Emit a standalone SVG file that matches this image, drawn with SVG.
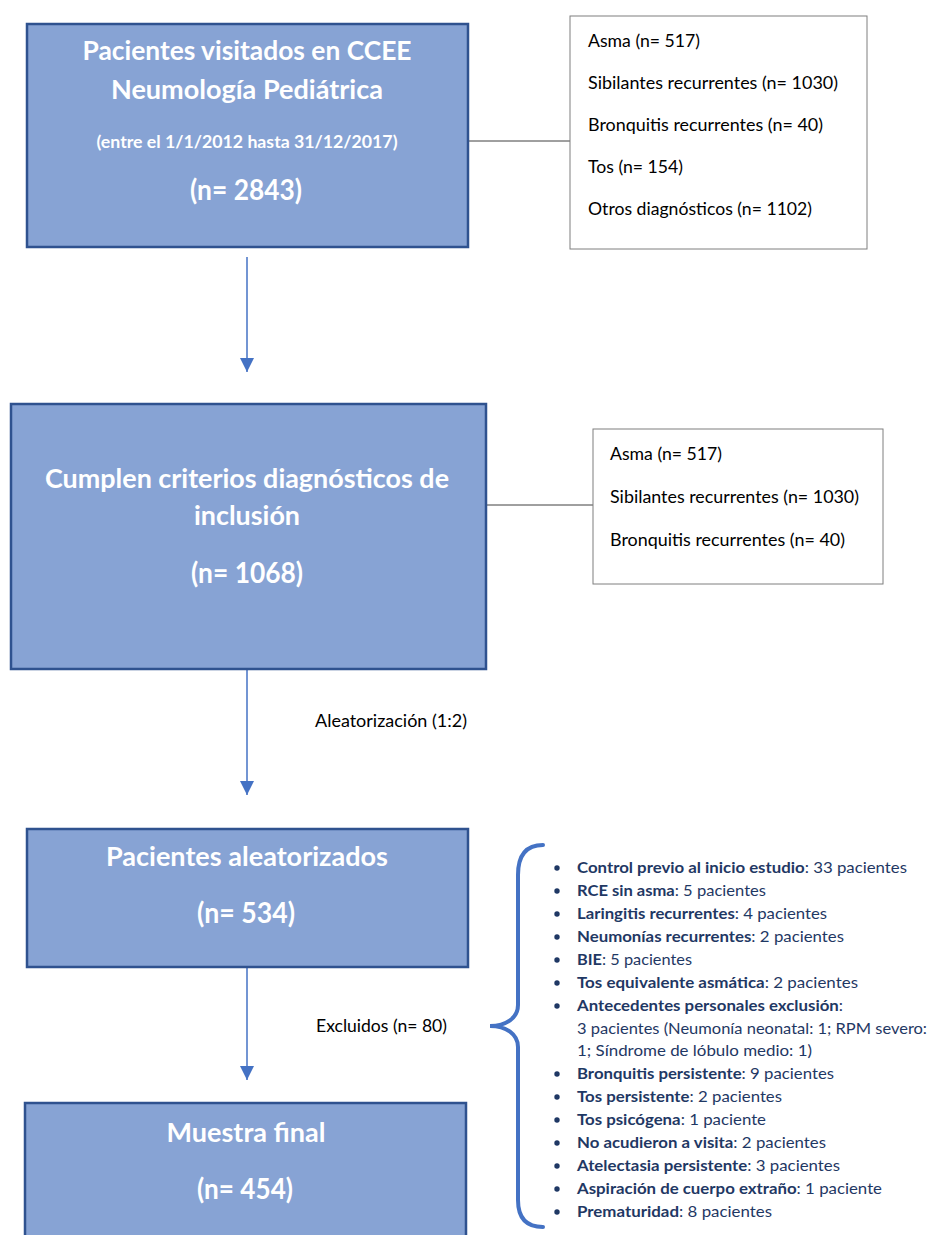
<svg xmlns="http://www.w3.org/2000/svg" width="933" height="1235" viewBox="0 0 933 1235">
<defs>
<style>
.box{fill:#87A3D4;stroke:#2F528F;stroke-width:2.5}
.side{fill:#ffffff;stroke:#7F7F7F;stroke-width:1}
.t{font-family:Lato,"Open Sans","DejaVu Sans",sans-serif;font-weight:700;fill:#ffffff;text-anchor:middle}
.s{font-family:Lato,"Open Sans","DejaVu Sans",sans-serif;font-size:16.5px;fill:#000000}
.l{font-family:Lato,"Open Sans","DejaVu Sans",sans-serif;font-size:16px;fill:#1F3864}
.b{font-weight:700}
.arrow{stroke:#4472C4;stroke-width:1.5;fill:none}
.link{stroke:#404040;stroke-width:1;fill:none}
.brace{stroke:#4472C4;stroke-width:4;fill:none;stroke-linecap:round}
.dot{fill:#1F3864}
</style>
<marker id="ah" markerUnits="userSpaceOnUse" markerWidth="14" markerHeight="14" refX="14" refY="7" orient="auto">
<path d="M0,0 L14,7 L0,14 z" fill="#4472C4"/>
</marker>
</defs>
<rect width="933" height="1235" fill="#ffffff"/>

<g id="connectors">
<line class="link" x1="468" y1="141" x2="570" y2="141"/>
<line class="link" x1="486" y1="505" x2="593" y2="505"/>
<line class="arrow" x1="247" y1="257" x2="247" y2="372" marker-end="url(#ah)"/>
<line class="arrow" x1="247" y1="669" x2="247" y2="795" marker-end="url(#ah)"/>
<line class="arrow" x1="247" y1="967" x2="247" y2="1080" marker-end="url(#ah)"/>
<text class="s" x="315" y="727" textLength="152" lengthAdjust="spacingAndGlyphs">Aleatorización (1:2)</text>
<text class="s" x="316" y="1032" textLength="131" lengthAdjust="spacingAndGlyphs">Excluidos (n= 80)</text>
</g>

<g id="node-visitados">
<rect class="box" x="27" y="24" width="441" height="223"/>
<text class="t" x="247" y="60" font-size="26" textLength="329" lengthAdjust="spacingAndGlyphs">Pacientes visitados en CCEE</text>
<text class="t" x="247" y="99" font-size="26" textLength="272" lengthAdjust="spacingAndGlyphs">Neumología Pediátrica</text>
<text class="t" x="247" y="148" font-size="16.5" textLength="301" lengthAdjust="spacingAndGlyphs">(entre el 1/1/2012 hasta 31/12/2017)</text>
<text class="t" x="246" y="200" font-size="29" textLength="112" lengthAdjust="spacingAndGlyphs">(n= 2843)</text>
</g>

<g id="node-diag1">
<rect class="side" x="570" y="16" width="297" height="233"/>
<text class="s" x="588" y="47" textLength="112" lengthAdjust="spacingAndGlyphs">Asma (n= 517)</text>
<text class="s" x="588" y="89" textLength="250" lengthAdjust="spacingAndGlyphs">Sibilantes recurrentes (n= 1030)</text>
<text class="s" x="588" y="131" textLength="235" lengthAdjust="spacingAndGlyphs">Bronquitis recurrentes (n= 40)</text>
<text class="s" x="588" y="173" textLength="95" lengthAdjust="spacingAndGlyphs">Tos (n= 154)</text>
<text class="s" x="588" y="215" textLength="224" lengthAdjust="spacingAndGlyphs">Otros diagnósticos (n= 1102)</text>
</g>

<g id="node-criterios">
<rect class="box" x="11" y="404" width="475" height="265"/>
<text class="t" x="247" y="488" font-size="27" textLength="404" lengthAdjust="spacingAndGlyphs">Cumplen criterios diagnósticos de</text>
<text class="t" x="247" y="525" font-size="27" textLength="106" lengthAdjust="spacingAndGlyphs">inclusión</text>
<text class="t" x="247" y="583" font-size="29" textLength="112" lengthAdjust="spacingAndGlyphs">(n= 1068)</text>
</g>

<g id="node-diag2">
<rect class="side" x="593" y="429" width="290" height="155"/>
<text class="s" x="610" y="460" textLength="112" lengthAdjust="spacingAndGlyphs">Asma (n= 517)</text>
<text class="s" x="610" y="503" textLength="249" lengthAdjust="spacingAndGlyphs">Sibilantes recurrentes (n= 1030)</text>
<text class="s" x="610" y="546" textLength="235" lengthAdjust="spacingAndGlyphs">Bronquitis recurrentes (n= 40)</text>
</g>

<g id="node-aleatorizados">
<rect class="box" x="27" y="829" width="441" height="138"/>
<text class="t" x="247" y="866" font-size="26" textLength="282" lengthAdjust="spacingAndGlyphs">Pacientes aleatorizados</text>
<text class="t" x="246" y="923" font-size="29" textLength="98" lengthAdjust="spacingAndGlyphs">(n= 534)</text>
</g>

<g id="node-final">
<rect class="box" x="25" y="1103" width="441" height="200"/>
<text class="t" x="246" y="1142" font-size="26" textLength="159" lengthAdjust="spacingAndGlyphs">Muestra final</text>
<text class="t" x="245" y="1199" font-size="29" textLength="96" lengthAdjust="spacingAndGlyphs">(n= 454)</text>
</g>

<g id="node-excluidos">
<path class="brace" d="M543,845 C526,845 518,855 518,875 L518,1005 C518,1018 506,1026 490,1026 C506,1026 518,1034 518,1047 L518,1200 C518,1218 526,1227 543,1227"/>
<circle class="dot" cx="557" cy="868" r="2.7"/>
<circle class="dot" cx="557" cy="891" r="2.7"/>
<circle class="dot" cx="557" cy="914" r="2.7"/>
<circle class="dot" cx="557" cy="937" r="2.7"/>
<circle class="dot" cx="557" cy="960" r="2.7"/>
<circle class="dot" cx="557" cy="983" r="2.7"/>
<circle class="dot" cx="557" cy="1006" r="2.7"/>
<circle class="dot" cx="557" cy="1074" r="2.7"/>
<circle class="dot" cx="557" cy="1097" r="2.7"/>
<circle class="dot" cx="557" cy="1120" r="2.7"/>
<circle class="dot" cx="557" cy="1143" r="2.7"/>
<circle class="dot" cx="557" cy="1166" r="2.7"/>
<circle class="dot" cx="557" cy="1189" r="2.7"/>
<circle class="dot" cx="557" cy="1212" r="2.7"/>
<text class="l" x="577" y="873" textLength="330" lengthAdjust="spacingAndGlyphs"><tspan class="b">Control previo al inicio estudio</tspan>: 33 pacientes</text>
<text class="l" x="577" y="896" textLength="189" lengthAdjust="spacingAndGlyphs"><tspan class="b">RCE sin asma</tspan>: 5 pacientes</text>
<text class="l" x="577" y="919" textLength="250" lengthAdjust="spacingAndGlyphs"><tspan class="b">Laringitis recurrentes</tspan>: 4 pacientes</text>
<text class="l" x="577" y="942" textLength="267" lengthAdjust="spacingAndGlyphs"><tspan class="b">Neumonías recurrentes</tspan>: 2 pacientes</text>
<text class="l" x="577" y="965" textLength="115" lengthAdjust="spacingAndGlyphs"><tspan class="b">BIE</tspan>: 5 pacientes</text>
<text class="l" x="577" y="988" textLength="281" lengthAdjust="spacingAndGlyphs"><tspan class="b">Tos equivalente asmática</tspan>: 2 pacientes</text>
<text class="l" x="577" y="1011" textLength="266" lengthAdjust="spacingAndGlyphs"><tspan class="b">Antecedentes personales exclusión</tspan>:</text>
<text class="l" x="577" y="1034" textLength="350" lengthAdjust="spacingAndGlyphs">3 pacientes (Neumonía neonatal: 1; RPM severo:</text>
<text class="l" x="577" y="1056" textLength="235" lengthAdjust="spacingAndGlyphs">1; Síndrome de lóbulo medio: 1)</text>
<text class="l" x="577" y="1079" textLength="257" lengthAdjust="spacingAndGlyphs"><tspan class="b">Bronquitis persistente</tspan>: 9 pacientes</text>
<text class="l" x="577" y="1102" textLength="205" lengthAdjust="spacingAndGlyphs"><tspan class="b">Tos persistente</tspan>: 2 pacientes</text>
<text class="l" x="577" y="1125" textLength="189" lengthAdjust="spacingAndGlyphs"><tspan class="b">Tos psicógena</tspan>: 1 paciente</text>
<text class="l" x="577" y="1148" textLength="249" lengthAdjust="spacingAndGlyphs"><tspan class="b">No acudieron a visita</tspan>: 2 pacientes</text>
<text class="l" x="577" y="1171" textLength="263" lengthAdjust="spacingAndGlyphs"><tspan class="b">Atelectasia persistente</tspan>: 3 pacientes</text>
<text class="l" x="577" y="1194" textLength="305" lengthAdjust="spacingAndGlyphs"><tspan class="b">Aspiración de cuerpo extraño</tspan>: 1 paciente</text>
<text class="l" x="577" y="1217" textLength="195" lengthAdjust="spacingAndGlyphs"><tspan class="b">Prematuridad</tspan>: 8 pacientes</text>
</g>
</svg>
